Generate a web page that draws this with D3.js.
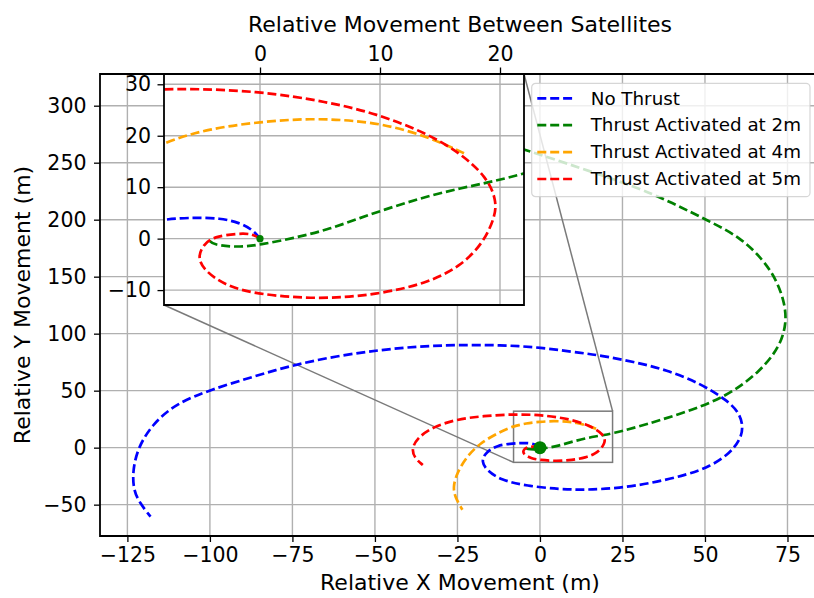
<!DOCTYPE html>
<html>
<head>
<meta charset="utf-8">
<script src="https://cdn.jsdelivr.net/npm/d3@7.9.0/dist/d3.min.js"></script>
<style>
  body { margin: 0; background: #fff; }
  svg { display: block; font-family: "DejaVu Sans", sans-serif; }
</style>
</head>
<body>
<svg id="chart" width="814" height="598"></svg>
<script>
// trajectories as [x, y] in metres
const noThrust = [[0,0],[-0.6,1.7],[-1.7,3.1],[-3.3,4.0],[-5.6,4.1],[-7.8,3.8],[-13.1,2.2],[-16.7,-4.9],
  [-17.7,-12.3],[-16.2,-19.6],[-12.1,-28.3],[-4,-33.6],[6.1,-36.5],[14,-37.1],[24,-35.5],[34,-31],
  [44.4,-23.9],[51.5,-16.7],[57.6,-4.9],[60.6,6.8],[61.6,17],[60.6,30.2],[56.6,41.8],[48.5,56.5],[38.4,68.2],
  [28.3,75.4],[18.2,81.0],[13.1,82.8],[0,88],[-12.1,90.1],[-25.2,90.1],[-36.4,89.0],[-48.5,85.7],[-61.6,80.4],
  [-74.8,72.5],[-86.9,62.3],[-100,50.6],[-110.1,38.9],[-117.2,21.4],[-121.7,0.9],[-123.4,-19.6],[-123.2,-37.1],
  [-121.2,-48.8],[-118,-60.5]];
const thrust2m = [[-4.2,-0.4],[-3.9,-1.2],[-1.9,-1.7],[0,-1.2],[2.8,0.1],[5.6,1.7],[8.3,4.0],[11.1,6.2],
  [13.9,8.2],[16.7,9.8],[19.4,11.1],[22,12.6],[28.3,17],[43.4,30.2],[56.6,44.7],[66.7,66.7],
  [72.7,88.6],[74.7,109],[74.2,126.7],[71.7,147],[67.7,164.6],[60.6,185],[50.5,199.7],[40.4,214.4],
  [28.3,230],[-4,261],[-30,285],[-55,305]];
const thrust4m = [[17.0,16.6],[15.8,17.9],[13.9,19.8],[11.1,21.8],[8.3,22.9],[4.2,23.4],[0,22.7],[-4.2,21.4],
  [-8,18.8],[-12.1,14],[-18.2,3.9],[-22.2,-7.9],[-25.2,-22.5],[-26.3,-34.2],[-25.8,-43],[-23.5,-54.5]];
const thrust5m = [[0,0],[-0.6,0.9],[-1.7,1.05],[-3.9,0.4],[-4.7,-1.2],[-5.2,-3.5],[-4.7,-6.1],[-2.8,-9.3],
  [0,-10.9],[5,-11.8],[9.7,-10.9],[13.9,-8.7],[16.7,-5.4],[18.6,-0.9],[19.6,4.3],[19.7,7.5],[18.9,12],
  [16.7,16.6],[13.9,20.5],[9.7,24.3],[5.6,26.6],[0,28.7],[-7.8,29.4],[-17.2,27.8],[-25.2,24.9],[-32.3,18.4],
  [-37.4,8.2],[-38.9,-2],[-37.9,-9.3],[-35.5,-15.2]];
const startPoint = [0, 0];

const seriesNames = ['No Thrust', 'Thrust Activated at 2m', 'Thrust Activated at 4m', 'Thrust Activated at 5m'];
const seriesColors = ['blue', 'green', 'orange', 'red'];
const seriesData = [noThrust, thrust2m, thrust4m, thrust5m];

const xTicks = [-125, -100, -75, -50, -25, 0, 25, 50, 75];
const yTicks = [-50, 0, 50, 100, 150, 200, 250, 300];
const insetXTicks = [0, 10, 20];
const insetYTicks = [-10, 0, 10, 20, 30];

const svg = d3.select('#chart');
svg.append('rect').attr('width', 814).attr('height', 598).attr('fill', 'white');

const x = d3.scaleLinear().domain([-133.3, 84.7]).range([100, 819.5]);
const y = d3.scaleLinear().domain([-77.5, 327.8]).range([536, 74]);
const ix = d3.scaleLinear().domain([-8, 22]).range([164, 524]);
const iy = d3.scaleLinear().domain([-12.9, 32]).range([305, 74]);

const defs = svg.append('defs');
function addClip(id, xs, ys) {
    defs.append('clipPath').attr('id', id).append('rect')
        .attr('x', xs.range()[0]).attr('y', ys.range()[1])
        .attr('width', xs.range()[1] - xs.range()[0])
        .attr('height', ys.range()[0] - ys.range()[1]);
}
addClip('mainClip', x, y);
addClip('insetClip', ix, iy);

const fmt = d3.format('d');
const dash = '9,3.9';

function drawGrid(g, xs, ys, xt, yt) {
    let grid = g.append('g').attr('stroke', '#b0b0b0').attr('stroke-width', 1.4);
    xt.forEach(t => grid.append('line')
        .attr('x1', xs(t)).attr('x2', xs(t)).attr('y1', ys.range()[0]).attr('y2', ys.range()[1]));
    yt.forEach(t => grid.append('line')
        .attr('y1', ys(t)).attr('y2', ys(t)).attr('x1', xs.range()[0]).attr('x2', xs.range()[1]));
}

function drawSeries(g, xs, ys, clipId, dotR) {
    let line = d3.line().x(d => xs(d[0])).y(d => ys(d[1])).curve(d3.curveBasis);
    let body = g.append('g').attr('clip-path', `url(#${clipId})`);
    seriesData.forEach((data, i) => {
        body.append('path').attr('d', line(data))
            .attr('fill', 'none').attr('stroke', seriesColors[i])
            .attr('stroke-width', 2.7).attr('stroke-dasharray', dash);
    });
    body.append('circle').attr('cx', xs(startPoint[0])).attr('cy', ys(startPoint[1]))
        .attr('r', dotR).attr('fill', 'green');
}

function styleAxis(a, size) {
    a.select('.domain').remove();
    a.selectAll('.tick line').attr('stroke', 'black').attr('stroke-width', 1.3);
    a.selectAll('.tick text').attr('font-size', size).attr('fill', 'black')
        .attr('font-family', '"DejaVu Sans", sans-serif');
}

function drawFrame(g, xs, ys) {
    let [x0, x1] = xs.range();
    let [y0, y1] = ys.range();
    g.append('path').attr('d', `M${x0},${y1}H${x1}V${y0}H${x0}Z`)
        .attr('stroke', 'black').attr('stroke-width', 1.8).attr('fill', 'none');
}

// ---- main axes ----
const main = svg.append('g');
drawGrid(main, x, y, xTicks, yTicks);

// zoom box and connectors (under the data lines)
let [ix0, ix1] = ix.domain();
let [iy0, iy1] = iy.domain();
let marks = main.append('g').attr('stroke', '#7a7a7a').attr('stroke-width', 1.5).attr('fill', 'none');
marks.append('rect').attr('x', x(ix0)).attr('y', y(iy1))
    .attr('width', x(ix1) - x(ix0)).attr('height', y(iy0) - y(iy1));
marks.append('line').attr('x1', ix.range()[0]).attr('y1', iy.range()[0]).attr('x2', x(ix0)).attr('y2', y(iy0));
marks.append('line').attr('x1', ix.range()[1]).attr('y1', iy.range()[1]).attr('x2', x(ix1)).attr('y2', y(iy1));

drawSeries(main, x, y, 'mainClip', 6.5);
drawFrame(main, x, y);

main.append('g').attr('transform', 'translate(0,536)')
    .call(d3.axisBottom(x).tickValues(xTicks).tickFormat(fmt).tickSize(6).tickPadding(5))
    .call(a => styleAxis(a, 20.5));
main.append('g').attr('transform', 'translate(100,0)')
    .call(d3.axisLeft(y).tickValues(yTicks).tickFormat(fmt).tickSize(6).tickPadding(7.5))
    .call(a => styleAxis(a, 20.5));

main.append('text').attr('x', 460).attr('y', 590).attr('text-anchor', 'middle')
    .attr('font-size', 22).text('Relative X Movement (m)');
main.append('text').attr('transform', 'translate(30,305) rotate(-90)').attr('text-anchor', 'middle')
    .attr('font-size', 22).text('Relative Y Movement (m)');
main.append('text').attr('x', 460).attr('y', 32).attr('text-anchor', 'middle')
    .attr('font-size', 22).text('Relative Movement Between Satellites');

// legend
let legend = main.append('g').attr('transform', 'translate(531.7,83.3)');
legend.append('rect').attr('width', 278.3).attr('height', 113.4).attr('rx', 4)
    .attr('fill', 'white').attr('fill-opacity', 0.8)
    .attr('stroke', '#cccccc').attr('stroke-opacity', 0.8).attr('stroke-width', 1.2);
seriesNames.forEach((name, i) => {
    let row = legend.append('g').attr('transform', `translate(0,${15 + i * 26.9})`);
    row.append('line').attr('x1', 5.6).attr('x2', 44.3).attr('y1', 0).attr('y2', 0)
        .attr('stroke', seriesColors[i]).attr('stroke-width', 2.7).attr('stroke-dasharray', dash);
    row.append('text').attr('x', 59).attr('y', 6.2).attr('font-size', 18.3).text(name);
});

// ---- inset axes ----
const inset = svg.append('g');
inset.append('rect').attr('x', 164).attr('y', 74).attr('width', 360).attr('height', 231).attr('fill', 'white');
drawGrid(inset, ix, iy, insetXTicks, insetYTicks);
drawSeries(inset, ix, iy, 'insetClip', 3.6);
drawFrame(inset, ix, iy);
inset.append('g').attr('transform', 'translate(0,74)')
    .call(d3.axisTop(ix).tickValues(insetXTicks).tickFormat(fmt).tickSize(6.5).tickPadding(7))
    .call(a => styleAxis(a, 20.5));
inset.append('g').attr('transform', 'translate(164,0)')
    .call(d3.axisLeft(iy).tickValues(insetYTicks).tickFormat(fmt).tickSize(6.5).tickPadding(6.5))
    .call(a => styleAxis(a, 20.5));
</script>
</body>
</html>
